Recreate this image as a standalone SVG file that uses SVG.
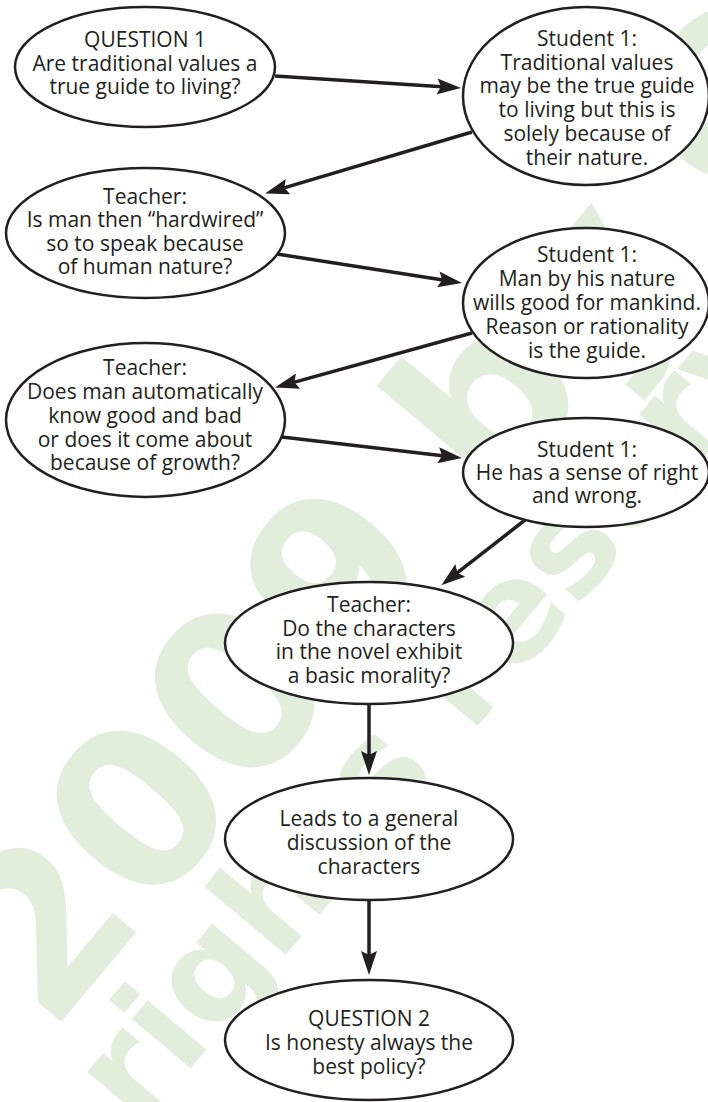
<svg xmlns="http://www.w3.org/2000/svg" width="708" height="1102" viewBox="0 0 708 1102">
  <style>
    .wm { fill: #e1eedc; font-family: "DejaVu Sans", sans-serif; font-weight: bold; }
    .node ellipse { fill: #ffffff; stroke: #231f20; stroke-width: 2.5; }
    .node text { fill: #231f20; font-family: "Open Sans", "Liberation Sans", sans-serif; font-size: 21px; text-anchor: middle; }
    .link { stroke: #231f20; stroke-width: 3.5; fill: none; marker-end: url(#head); }
  </style>
  <defs>
    <marker id="head" markerUnits="userSpaceOnUse" markerWidth="24" markerHeight="16" refX="13" refY="8" orient="auto">
      <path d="M0,0 L24,8 L0,16 L4,8 Z" fill="#231f20"/>
    </marker>
  </defs>
  <rect width="708" height="1102" fill="#ffffff"/>

  <!-- background watermark -->
  <g id="watermark" transform="translate(50,1035) rotate(-50)">
    <text class="wm" font-size="220" x="0" y="0">2009 by C</text>
    <text class="wm" font-size="140" x="-16" y="129">rights reserved</text>
  </g>

  <!-- connectors -->
  <g id="connectors">
    <path class="link" d="M275,76 L450,87.3"/>
    <path class="link" d="M472,132 L275.6,190.4"/>
    <path class="link" d="M277,254 L451.1,281.3"/>
    <path class="link" d="M472,333 L285.6,384.6"/>
    <path class="link" d="M282,437 L451.1,456.7"/>
    <path class="link" d="M525,520 L450.1,578.4"/>
    <path class="link" d="M369,704 L369,764"/>
    <path class="link" d="M369,900 L369,964"/>
  </g>

  <g id="q1" class="node">
    <ellipse cx="145" cy="67" rx="130" ry="60"/>
    <text x="145" y="47">QUESTION 1</text>
    <text x="145" y="70.5">Are traditional values a</text>
    <text x="145" y="94">true guide to living?</text>
  </g>

  <g id="student-a" class="node">
    <ellipse cx="586" cy="96" rx="123" ry="89"/>
    <text x="587" y="46">Student 1:</text>
    <text x="587" y="69.7">Traditional values</text>
    <text x="587" y="93.4">may be the true guide</text>
    <text x="587" y="117.1">to living but this is</text>
    <text x="587" y="140.8">solely because of</text>
    <text x="587" y="164.5">their nature.</text>
  </g>

  <g id="teacher-a" class="node">
    <ellipse cx="145.5" cy="233" rx="139.5" ry="65"/>
    <text x="145" y="203.5">Teacher:</text>
    <text x="145" y="227">Is man then “hardwired”</text>
    <text x="145" y="250.5">so to speak because</text>
    <text x="145" y="274">of human nature?</text>
  </g>

  <g id="student-b" class="node">
    <ellipse cx="586" cy="303" rx="123" ry="75"/>
    <text x="587" y="262">Student 1:</text>
    <text x="587" y="286">Man by his nature</text>
    <text x="587" y="310">wills good for mankind.</text>
    <text x="587" y="334">Reason or rationality</text>
    <text x="587" y="358">is the guide.</text>
  </g>

  <g id="teacher-b" class="node">
    <ellipse cx="145.5" cy="420" rx="139.5" ry="77"/>
    <text x="145" y="375">Teacher:</text>
    <text x="145" y="399">Does man automatically</text>
    <text x="145" y="423">know good and bad</text>
    <text x="145" y="447">or does it come about</text>
    <text x="145" y="470">because of growth?</text>
  </g>

  <g id="student-c" class="node">
    <ellipse cx="586" cy="472.5" rx="123" ry="54.5"/>
    <text x="587" y="457">Student 1:</text>
    <text x="587" y="480">He has a sense of right</text>
    <text x="587" y="503">and wrong.</text>
  </g>

  <g id="teacher-c" class="node">
    <ellipse cx="369" cy="643" rx="144" ry="61"/>
    <text x="369" y="612">Teacher:</text>
    <text x="369" y="635.5">Do the characters</text>
    <text x="369" y="659">in the novel exhibit</text>
    <text x="369" y="683">a basic morality?</text>
  </g>

  <g id="discussion" class="node">
    <ellipse cx="369" cy="839" rx="144" ry="61"/>
    <text x="369" y="826">Leads to a general</text>
    <text x="369" y="850">discussion of the</text>
    <text x="369" y="874">characters</text>
  </g>

  <g id="q2" class="node">
    <ellipse cx="369" cy="1040" rx="144" ry="60"/>
    <text x="369" y="1026">QUESTION 2</text>
    <text x="369" y="1050">Is honesty always the</text>
    <text x="369" y="1074">best policy?</text>
  </g>
</svg>
